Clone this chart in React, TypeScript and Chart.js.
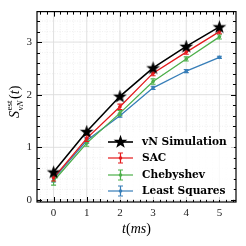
import React, { useEffect, useRef } from "react";
import { Chart, registerables } from "chart.js";

Chart.register(...registerables);

const times = [0, 1, 2, 3, 4, 5];
const vnSimulation = [0.53, 1.3, 1.97, 2.51, 2.92, 3.29];
const sacValues = [0.42, 1.17, 1.77, 2.41, 2.81, 3.2];
const sacErrors = [0.06, 0.06, 0.05, 0.05, 0.04, 0.04];
const chebValues = [0.36, 1.08, 1.65, 2.25, 2.68, 3.1];
const chebErrors = [0.08, 0.06, 0.05, 0.05, 0.04, 0.04];
const lsValues = [0.4, 1.13, 1.6, 2.13, 2.45, 2.71];
const lsErrors = [0.06, 0.05, 0.03, 0.03, 0.03, 0.02];
const xTickLabels = ["0", "1", "2", "3", "4", "5"];
const yTickLabels = ["0", "1", "2", "3"];
const legendLabels = ["vN Simulation", "SAC", "Chebyshev", "Least Squares"];

const BLACK = "#000000";
const RED = "#e41a1c";
const GREEN = "#4daf4a";
const BLUE = "#377eb8";

function makeStar(): HTMLCanvasElement {
  const c = document.createElement("canvas");
  c.width = 15;
  c.height = 15;
  const g = c.getContext("2d")!;
  g.fillStyle = "#000";
  g.beginPath();
  for (let i = 0; i < 10; i++) {
    const r = i % 2 === 0 ? 7.2 : 2.9;
    const a = -Math.PI / 2 + (i * Math.PI) / 5;
    const px = 7.5 + r * Math.cos(a);
    const py = 8 + r * Math.sin(a);
    if (i === 0) g.moveTo(px, py);
    else g.lineTo(px, py);
  }
  g.closePath();
  g.fill();
  return c;
}

export default function App() {
  const ref = useRef<HTMLCanvasElement | null>(null);

  useEffect(() => {
    document.body.style.margin = "0";
    const canvas = ref.current!;
    const star = makeStar();
    const serif = "'Liberation Serif', 'DejaVu Serif', serif";
    const errs: (number[] | null)[] = [null, sacErrors, chebErrors, lsErrors];
    const colors = [BLACK, RED, GREEN, BLUE];

    const mk = (vals: number[]) => times.map((t, i) => ({ x: t, y: vals[i] }));

    const plugin = {
      id: "custom",
      beforeDatasetsDraw(chart: any) {
        const { ctx, chartArea: a, scales } = chart;
        const xs = scales.x;
        const ys = scales.y;
        ctx.save();
        ctx.strokeStyle = "#e6e6e6";
        ctx.lineWidth = 0.6;
        ctx.setLineDash([1, 1.5]);
        for (let k = -2; k <= 27; k++) {
          const v = k * 0.2;
          if (Math.abs(v - Math.round(v)) < 1e-6) continue;
          const px = xs.getPixelForValue(v);
          if (px > a.left && px < a.right) {
            ctx.beginPath();
            ctx.moveTo(px, a.top);
            ctx.lineTo(px, a.bottom);
            ctx.stroke();
          }
        }
        for (let k = -1; k <= 18; k++) {
          const v = k * 0.2;
          if (Math.abs(v - Math.round(v)) < 1e-6) continue;
          const py = ys.getPixelForValue(v);
          if (py > a.top && py < a.bottom) {
            ctx.beginPath();
            ctx.moveTo(a.left, py);
            ctx.lineTo(a.right, py);
            ctx.stroke();
          }
        }
        ctx.setLineDash([]);
        ctx.strokeStyle = "#dcdcdc";
        ctx.lineWidth = 0.9;
        xTickLabels.forEach((l) => {
          const px = xs.getPixelForValue(Number(l));
          ctx.beginPath();
          ctx.moveTo(px, a.top);
          ctx.lineTo(px, a.bottom);
          ctx.stroke();
        });
        yTickLabels.forEach((l) => {
          const py = ys.getPixelForValue(Number(l));
          ctx.beginPath();
          ctx.moveTo(a.left, py);
          ctx.lineTo(a.right, py);
          ctx.stroke();
        });
        ctx.restore();
      },
      afterDatasetDraw(chart: any, args: any) {
        const i = args.index;
        const e = errs[i];
        if (!e) return;
        const { ctx, scales } = chart;
        const vals = chart.data.datasets[i].data;
        ctx.save();
        ctx.strokeStyle = colors[i];
        ctx.lineWidth = 1.1;
        vals.forEach((p: any, j: number) => {
          const px = scales.x.getPixelForValue(p.x);
          const y1 = scales.y.getPixelForValue(p.y - e[j]);
          const y2 = scales.y.getPixelForValue(p.y + e[j]);
          ctx.beginPath();
          ctx.moveTo(px, y1);
          ctx.lineTo(px, y2);
          ctx.moveTo(px - 2.5, y1);
          ctx.lineTo(px + 2.5, y1);
          ctx.moveTo(px - 2.5, y2);
          ctx.lineTo(px + 2.5, y2);
          ctx.stroke();
        });
        ctx.restore();
      },
      afterDraw(chart: any) {
        const { ctx, chartArea: a, scales } = chart;
        const xs = scales.x;
        const ys = scales.y;
        ctx.save();
        ctx.strokeStyle = "#000";
        ctx.lineWidth = 1;
        for (let k = -2; k <= 27; k++) {
          const v = k * 0.2;
          const px = Math.round(xs.getPixelForValue(v)) + 0.5;
          if (px <= a.left || px >= a.right) continue;
          const major = Math.abs(v - Math.round(v)) < 1e-6;
          const len = major ? 5 : 3;
          ctx.beginPath();
          ctx.moveTo(px, a.bottom);
          ctx.lineTo(px, a.bottom - len);
          ctx.moveTo(px, a.top);
          ctx.lineTo(px, a.top + len);
          ctx.stroke();
        }
        for (let k = -1; k <= 18; k++) {
          const v = k * 0.2;
          const py = Math.round(ys.getPixelForValue(v)) + 0.5;
          if (py <= a.top || py >= a.bottom) continue;
          const major = Math.abs(v - Math.round(v)) < 1e-6;
          const len = major ? 5 : 3;
          ctx.beginPath();
          ctx.moveTo(a.left, py);
          ctx.lineTo(a.left + len, py);
          ctx.moveTo(a.right, py);
          ctx.lineTo(a.right - len, py);
          ctx.stroke();
        }
        ctx.lineWidth = 1.2;
        ctx.strokeRect(a.left, a.top, a.right - a.left, a.bottom - a.top);

        // legend
        const lx0 = 108;
        const lx1 = 133;
        const rows = [142, 158, 175, 191];
        ctx.fillStyle = "rgba(255,255,255,0.8)";
        ctx.fillRect(104, 132, 130, 68);
        rows.forEach((ry, i) => {
          ctx.strokeStyle = colors[i];
          ctx.lineWidth = i === 0 ? 1.6 : 1.2;
          ctx.beginPath();
          ctx.moveTo(lx0, ry);
          ctx.lineTo(lx1, ry);
          ctx.stroke();
          const cx = (lx0 + lx1) / 2;
          if (i === 0) {
            ctx.drawImage(star, cx - 7.5, ry - 8);
          } else {
            ctx.beginPath();
            ctx.moveTo(cx, ry - 5);
            ctx.lineTo(cx, ry + 5);
            ctx.moveTo(cx - 2.5, ry - 5);
            ctx.lineTo(cx + 2.5, ry - 5);
            ctx.moveTo(cx - 2.5, ry + 5);
            ctx.lineTo(cx + 2.5, ry + 5);
            ctx.stroke();
            ctx.fillStyle = colors[i];
            ctx.beginPath();
            ctx.arc(cx, ry, 1.8, 0, Math.PI * 2);
            ctx.fill();
          }
          ctx.fillStyle = "#000";
          ctx.font = "bold 10.6px 'DejaVu Serif', serif";
          ctx.textAlign = "left";
          ctx.textBaseline = "middle";
          ctx.fillText(legendLabels[i], 142, ry + 0.5);
        });

        // x title
        ctx.fillStyle = "#000";
        ctx.textBaseline = "alphabetic";
        const parts: [string, string][] = [
          ["t", "italic 14px " + serif],
          ["(", "14px " + serif],
          ["ms", "italic 14px " + serif],
          [")", "14px " + serif],
        ];
        let total = 0;
        parts.forEach(([s, f]) => {
          ctx.font = f;
          total += ctx.measureText(s).width;
        });
        let x = (a.left + a.right) / 2 - total / 2;
        parts.forEach(([s, f]) => {
          ctx.font = f;
          ctx.fillText(s, x, 233);
          x += ctx.measureText(s).width;
        });

        // y title
        ctx.save();
        ctx.translate(19, (a.top + a.bottom) / 2 - 5);
        ctx.rotate(-Math.PI / 2);
        ctx.font = "italic 14px " + serif;
        const sW = ctx.measureText("S").width;
        ctx.font = "9px " + serif;
        const estW = ctx.measureText("est").width;
        ctx.font = "italic 9px " + serif;
        const vnW = ctx.measureText("vN").width;
        const subW = Math.max(estW, vnW);
        ctx.font = "14px " + serif;
        const pW = ctx.measureText("()").width;
        ctx.font = "italic 14px " + serif;
        const tW = ctx.measureText("t").width;
        const tot = sW + subW + 2 + pW + tW;
        let yx = -tot / 2;
        ctx.textAlign = "left";
        ctx.font = "italic 14px " + serif;
        ctx.fillText("S", yx, 0);
        yx += sW + 0.5;
        ctx.font = "9px " + serif;
        ctx.fillText("est", yx, -7);
        ctx.font = "italic 9px " + serif;
        ctx.fillText("vN", yx, 3.5);
        yx += subW + 1.5;
        ctx.font = "14px " + serif;
        ctx.fillText("(", yx, 0);
        yx += ctx.measureText("(").width;
        ctx.font = "italic 14px " + serif;
        ctx.fillText("t", yx, 0);
        yx += tW;
        ctx.font = "14px " + serif;
        ctx.fillText(")", yx, 0);
        ctx.restore();
        ctx.restore();
      },
    };

    const chart = new Chart(canvas, {
      type: "line",
      data: {
        datasets: [
          {
            label: legendLabels[0],
            data: mk(vnSimulation),
            borderColor: BLACK,
            backgroundColor: BLACK,
            borderWidth: 1.6,
            pointStyle: star as any,
            pointRadius: 7,
            order: 0,
          },
          {
            label: legendLabels[1],
            data: mk(sacValues),
            borderColor: RED,
            backgroundColor: RED,
            borderWidth: 1.3,
            pointStyle: "circle",
            pointRadius: 1.8,
            pointBorderWidth: 0,
            order: 1,
          },
          {
            label: legendLabels[2],
            data: mk(chebValues),
            borderColor: GREEN,
            backgroundColor: GREEN,
            borderWidth: 1.3,
            pointStyle: "circle",
            pointRadius: 1.8,
            pointBorderWidth: 0,
            order: 2,
          },
          {
            label: legendLabels[3],
            data: mk(lsValues),
            borderColor: BLUE,
            backgroundColor: BLUE,
            borderWidth: 1.3,
            pointStyle: "circle",
            pointRadius: 1.8,
            pointBorderWidth: 0,
            order: 3,
          },
        ],
      },
      options: {
        responsive: false,
        animation: false,
        layout: { padding: { top: 9, right: 10, left: 0, bottom: 0 } },
        plugins: { legend: { display: false }, tooltip: { enabled: false } },
        scales: {
          x: {
            type: "linear",
            min: -0.5,
            max: 5.5,
            grid: { display: false, drawTicks: false },
            border: { display: false },
            afterFit: (s: any) => {
              s.height = 44;
            },
            afterBuildTicks: (s: any) => {
              s.ticks = xTickLabels.map((l) => ({ value: Number(l) }));
            },
            ticks: {
              autoSkip: false,
              maxRotation: 0,
              padding: 5,
              color: "#222",
              font: { family: serif, size: 11 },
              callback: (v: any) => String(v),
            },
          },
          y: {
            type: "linear",
            min: -0.04,
            max: 3.58,
            grid: { display: false, drawTicks: false },
            border: { display: false },
            afterFit: (s: any) => {
              s.width = 37;
            },
            afterBuildTicks: (s: any) => {
              s.ticks = yTickLabels.map((l) => ({ value: Number(l) }));
            },
            ticks: {
              autoSkip: false,
              padding: 5,
              color: "#222",
              font: { family: serif, size: 11 },
              callback: (v: any) => String(v),
            },
          },
        },
      },
      plugins: [plugin],
    });
    return () => chart.destroy();
  }, []);

  return (
    <div style={{ width: 246, height: 246 }}>
      <canvas ref={ref} width={246} height={246} style={{ display: "block" }} />
    </div>
  );
}
